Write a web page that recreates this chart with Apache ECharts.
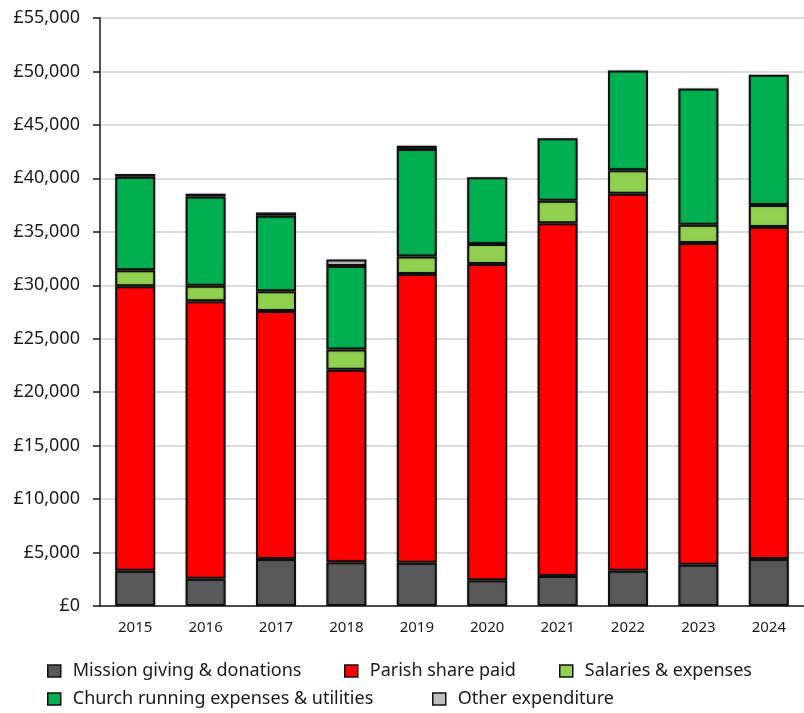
<!DOCTYPE html>
<html>
<head>
<meta charset="utf-8">
<script src="https://cdn.jsdelivr.net/npm/echarts@6/dist/echarts.min.js"></script>
<style>
  html, body { margin: 0; padding: 0; background: #fff; }
  #chart { width: 804px; height: 713px; }
</style>
</head>
<body>
<div id="chart"></div>
<script>
const years = ['2015', '2016', '2017', '2018', '2019', '2020', '2021', '2022', '2023', '2024']
const mission = [3300, 2550, 4400, 4100, 4050, 2400, 2800, 3300, 3850, 4400]
const parish = [26600, 25950, 23200, 18000, 27000, 29600, 33000, 35250, 30100, 31050]
const salaries = [1500, 1450, 1850, 1900, 1650, 1850, 2100, 2200, 1700, 2050]
const church = [8750, 8350, 7050, 7800, 10050, 6250, 5850, 9350, 12750, 12200]
const other = [250, 250, 300, 600, 300, 0, 0, 0, 0, 0]

const names = [
  'Mission giving & donations',
  'Parish share paid',
  'Salaries & expenses',
  'Church running expenses & utilities',
  'Other expenditure'
]
const colors = ['#595959', '#ff0000', '#92d050', '#00b050', '#bfbfbf']
const values = [mission, parish, salaries, church, other]

const font = '"Noto Sans", sans-serif'

function makeSeries(i) {
  return {
    name: names[i],
    type: 'bar',
    stack: 'total',
    barWidth: 40,
    data: values[i].map(v => (v ? v : null)),
    itemStyle: {
      color: colors[i],
      borderColor: '#111',
      borderWidth: 2,
      shadowColor: 'rgba(0,0,0,0.25)',
      shadowBlur: 2
    }
  }
}

function makeLegend(i, left, top) {
  return {
    data: [names[i]],
    left: left,
    top: top,
    padding: 0,
    icon: 'rect',
    itemWidth: 13,
    itemHeight: 12,
    itemStyle: { borderColor: '#111', borderWidth: 1.5 },
    textStyle: {
      fontFamily: font,
      fontSize: 18,
      color: '#1a1a1a',
      padding: [0, 0, 0, 7]
    }
  }
}

const chart = echarts.init(document.getElementById('chart'))

chart.setOption({
  animation: false,
  legend: [
    makeLegend(0, 47, 662),
    makeLegend(1, 344, 662),
    makeLegend(2, 559, 662),
    makeLegend(3, 47, 690),
    makeLegend(4, 432, 690)
  ],
  grid: {
    left: 100,
    top: 18,
    width: 714,
    height: 588
  },
  xAxis: {
    type: 'category',
    data: years,
    axisLine: { lineStyle: { color: '#1a1a1a', width: 1.5 } },
    axisTick: { alignWithLabel: true, length: 6, lineStyle: { color: '#1a1a1a', width: 1.5 } },
    axisLabel: {
      fontFamily: font,
      fontSize: 15,
      color: '#1a1a1a',
      margin: 14
    }
  },
  yAxis: {
    type: 'value',
    min: 0,
    max: 55000,
    interval: 5000,
    axisLine: { show: true, lineStyle: { color: '#1a1a1a', width: 1.5 } },
    axisTick: { show: true, length: 7, lineStyle: { color: '#1a1a1a', width: 1.5 } },
    axisLabel: {
      fontFamily: font,
      fontSize: 18,
      color: '#1a1a1a',
      margin: 20,
      formatter: v => '£' + v.toLocaleString('en-GB')
    },
    splitLine: {
      lineStyle: { color: '#dcdcdc', width: 2 }
    }
  },
  series: [0, 1, 2, 3, 4].map(makeSeries)
})
</script>
</body>
</html>
